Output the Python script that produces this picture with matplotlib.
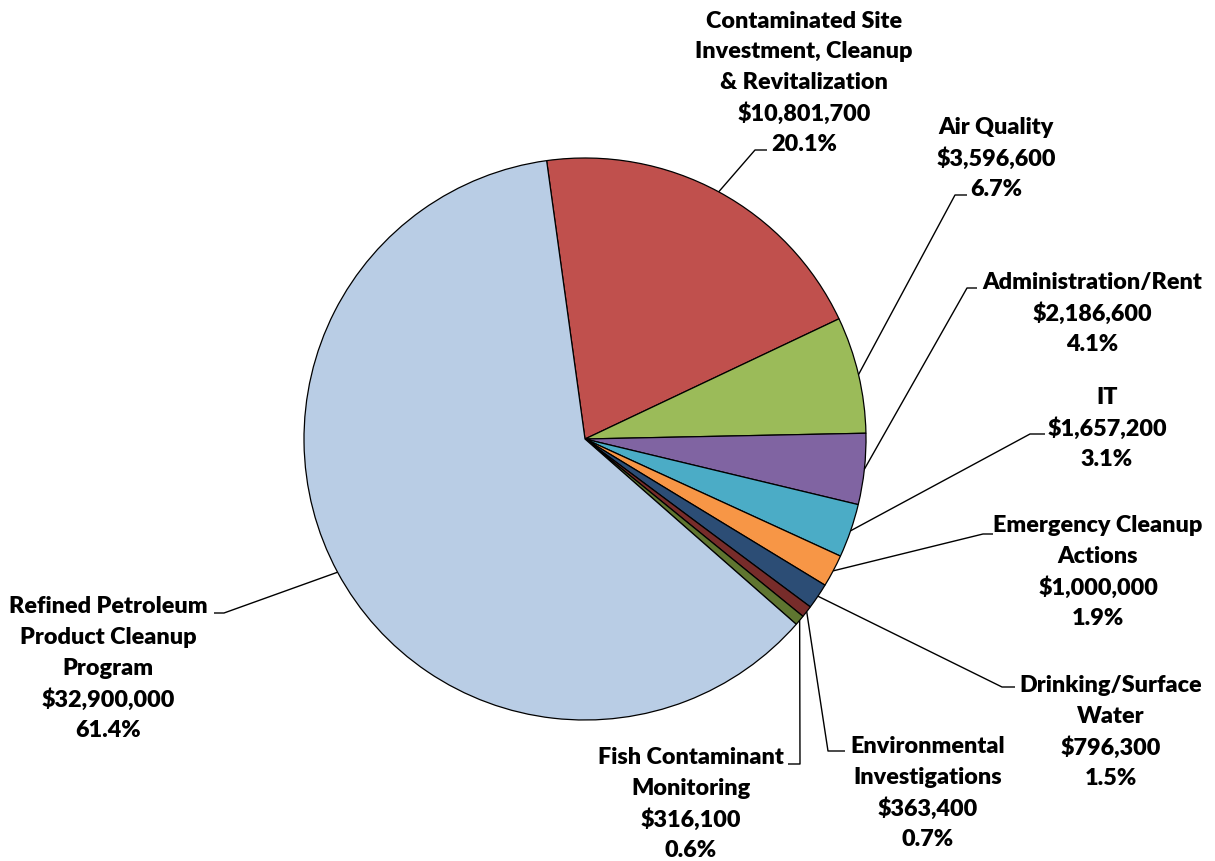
import numpy as np
import matplotlib
matplotlib.use("Agg")
import matplotlib.pyplot as plt

# Budget categories (clockwise from the top) and amounts in dollars
categories = [
    "Contaminated Site\nInvestment, Cleanup\n& Revitalization",
    "Air Quality",
    "Administration/Rent",
    "IT",
    "Emergency Cleanup\nActions",
    "Drinking/Surface\nWater",
    "Environmental\nInvestigations",
    "Fish Contaminant\nMonitoring",
    "Refined Petroleum\nProduct Cleanup\nProgram",
]
amounts = [10801700, 3596600, 2186600, 1657200, 1000000, 796300, 363400, 316100, 32900000]
colors = ["#C0504D", "#9BBB59", "#8064A2", "#4BACC6", "#F79646",
          "#2C4D75", "#772C2A", "#5F7530", "#B9CDE5"]

# Label layout in pixel space (y grows downward):
# (block centre x, centre y of first line, elbow x, elbow y, end x of horizontal stub)
label_layout = [
    (804, 21, 755, 151, 767),
    (996, 128, 955, 196, 967),
    (1092, 283, 967, 289, 977),
    (1107, 398, 1030, 435, 1045),
    (1098, 526, 983, 535, 993),
    (1111, 686, 1002, 688, 1015),
    (928, 747, 828, 752, 845),
    (691, 758, 800, 765, 788),
    (108, 607, 224, 614, 214),
]

W, H = 1215, 862
CX, CY, R = 585, 440, 281
START_OFFSET = 7.85   # degrees left of 12 o'clock where the first wedge begins
LINE_PITCH = 30.8

plt.rcParams["font.family"] = ["Lato", "DejaVu Sans"]

fig = plt.figure(figsize=(W / 100, H / 100), dpi=100)
ax = fig.add_axes([0, 0, 1, 1])

# With the y axis pointing down, counter-clockwise angles in data space run clockwise on screen
start_deg = 270 - START_OFFSET
wedges, _ = ax.pie(amounts, colors=colors, startangle=start_deg, counterclock=True,
                   radius=R, center=(CX, CY),
                   wedgeprops=dict(edgecolor="black", linewidth=0.9))
ax.set_xlim(0, W)
ax.set_ylim(H, 0)
ax.set_aspect("equal")
ax.axis("off")

total = sum(amounts)
for w, name, amt, lay in zip(wedges, categories, amounts, label_layout):
    bx, by, ex, ey, hx = lay
    mid = np.deg2rad((w.theta1 + w.theta2) / 2)
    px, py = CX + R * np.cos(mid), CY + R * np.sin(mid)
    ax.plot([px, ex, hx], [py, ey, ey], color="black", lw=1.0, solid_capstyle="butt")
    lines = name.split("\n") + [f"${amt:,.0f}", f"{amt / total * 100:.1f}%"]
    for i, line in enumerate(lines):
        ax.text(bx, by + i * LINE_PITCH, line, ha="center", va="center",
                fontsize=16.8, fontweight="heavy", color="black")

fig.savefig("out.png", dpi=100, facecolor="white")
